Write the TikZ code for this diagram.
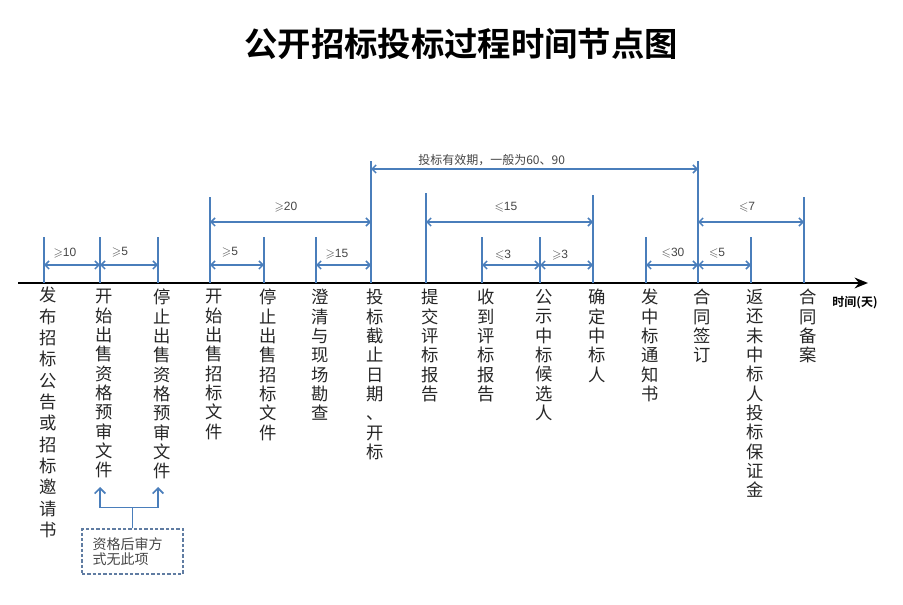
\documentclass[tikz,border=0pt]{standalone}
\usepackage{fontspec}
\usepackage{amssymb}
\usetikzlibrary{arrows.meta}

\newfontfamily\cjk{Noto Sans CJK SC}[BoldFont={Noto Sans CJK SC Bold}]
\newfontfamily\lab{Liberation Sans}

\definecolor{lineblue}{RGB}{74,126,187}
\definecolor{dashblue}{RGB}{96,124,162}
\definecolor{textgray}{RGB}{70,70,70}

% one character per line, for the event labels under the axis
\makeatletter
\newcommand\vtext[1]{\vbox{\@tfor\vt@ch:=#1\do{\hbox to 1em{\hss\vt@ch\hss}}}}
\makeatother

\tikzset{
  axis/.style={line width=1.8pt, -{Stealth[length=10pt,width=8pt]}},
  tickline/.style={draw=lineblue, line width=1.1pt},
  bigtick/.style={draw=lineblue, line width=1.8pt},
  dim/.style={draw=lineblue, line width=1.1pt,
    {Straight Barb[length=3pt,width=6pt]}-{Straight Barb[length=3pt,width=6pt]}},
  dimlabel/.style={text=textgray, inner sep=0pt, font=\lab\fontsize{9}{10}\selectfont},
  event/.style={anchor=north, inner sep=0pt, text=black!85,
    font=\cjk\fontsize{13}{14.5}\selectfont},
  note/.style={draw=dashblue, dash pattern=on 2.5pt off 1.5pt, line width=0.8pt,
    minimum width=75.75pt, minimum height=33.75pt, text width=60pt, align=left,
    text=textgray, font=\cjk\fontsize{10.5}{11.5}\selectfont},
  bracket/.style={draw=lineblue, line width=1.3pt, -{Straight Barb[length=4pt,width=8pt]}}
}

\begin{document}
\begin{tikzpicture}[x=0.75pt,y=-0.75pt]
  \useasboundingbox (0,0) rectangle (903,605);

  \node[font=\cjk\bfseries\fontsize{25}{30}\selectfont] (title) at (461,44) {公开招标投标过程时间节点图};

  % time axis
  \coordinate (o) at (18,283);
  \coordinate (e) at (868,283);
  \draw[axis] (o) -- (e);
  \node[font=\cjk\bfseries\fontsize{9}{10}\selectfont] (unit) at (855,303) {时间(天)};

  % points on the axis and tops of the ticks
  \coordinate (t1)  at (44,283);  \coordinate (h1)  at (44,237);
  \coordinate (t2)  at (100,283); \coordinate (h2)  at (100,237);
  \coordinate (t3)  at (158,283); \coordinate (h3)  at (158,237);
  \coordinate (t4)  at (210,283); \coordinate (h4)  at (210,197);
  \coordinate (t5)  at (264,283); \coordinate (h5)  at (264,237);
  \coordinate (t6)  at (316,283); \coordinate (h6)  at (316,237);
  \coordinate (t7)  at (371,283); \coordinate (h7)  at (371,161);
  \coordinate (t8)  at (426,283); \coordinate (h8)  at (426,193);
  \coordinate (t9)  at (482,283); \coordinate (h9)  at (482,237);
  \coordinate (t10) at (540,283); \coordinate (h10) at (540,237);
  \coordinate (t11) at (593,283); \coordinate (h11) at (593,195);
  \coordinate (t12) at (646,283); \coordinate (h12) at (646,237);
  \coordinate (t13) at (698,283); \coordinate (h13) at (698,161);
  \coordinate (t14) at (751,283); \coordinate (h14) at (751,237);
  \coordinate (t15) at (804,283); \coordinate (h15) at (804,197);

  \draw[tickline] (t1) -- (h1);
  \draw[tickline] (t2) -- (h2);
  \draw[tickline] (t3) -- (h3);
  \draw[tickline] (t4) -- (h4);
  \draw[tickline] (t5) -- (h5);
  \draw[tickline] (t6) -- (h6);
  \draw[bigtick]  (t7) -- (h7);
  \draw[tickline] (t8) -- (h8);
  \draw[tickline] (t9) -- (h9);
  \draw[tickline] (t10) -- (h10);
  \draw[tickline] (t11) -- (h11);
  \draw[tickline] (t12) -- (h12);
  \draw[tickline] (t13) -- (h13);
  \draw[tickline] (t14) -- (h14);
  \draw[tickline] (t15) -- (h15);

  % levels of the span arrows
  \coordinate (lo)  at (0,265);
  \coordinate (mid) at (0,222);
  \coordinate (hi)  at (0,169);

  \draw[dim] (t1 |- lo) -- (t2 |- lo);
  \draw[dim] (t2 |- lo) -- (t3 |- lo);
  \draw[dim] (t4 |- lo) -- (t5 |- lo);
  \draw[dim] (t6 |- lo) -- (t7 |- lo);
  \draw[dim] (t9 |- lo) -- (t10 |- lo);
  \draw[dim] (t10 |- lo) -- (t11 |- lo);
  \draw[dim] (t12 |- lo) -- (t13 |- lo);
  \draw[dim] (t13 |- lo) -- (t14 |- lo);
  \draw[dim] (t4 |- mid) -- (t7 |- mid);
  \draw[dim] (t8 |- mid) -- (t11 |- mid);
  \draw[dim] (t13 |- mid) -- (t15 |- mid);
  \draw[dim] (t7 |- hi) -- (t13 |- hi);

  \node[dimlabel] (d1)  at (65,253)  {$\geqslant$10};
  \node[dimlabel] (d2)  at (120,252) {$\geqslant$5};
  \node[dimlabel] (d3)  at (230,252) {$\geqslant$5};
  \node[dimlabel] (d4)  at (337,254) {$\geqslant$15};
  \node[dimlabel] (d5)  at (286,207) {$\geqslant$20};
  \node[dimlabel] (d6)  at (506,207) {$\leqslant$15};
  \node[dimlabel] (d7)  at (503,255) {$\leqslant$3};
  \node[dimlabel] (d8)  at (560,255) {$\geqslant$3};
  \node[dimlabel] (d9)  at (673,253) {$\leqslant$30};
  \node[dimlabel] (d10) at (717,253) {$\leqslant$5};
  \node[dimlabel] (d11) at (747,207) {$\leqslant$7};
  \node[dimlabel, anchor=west, font=\cjk\fontsize{9}{10}\selectfont] (d12) at (418,160) {投标有效期，一般为60、90};

  % events
  \node[event, font=\cjk\fontsize{13}{16}\selectfont] (e1) at (48,287) {\vtext{发布招标公告或招标邀请书}};
  \node[event] (e2)  at (104,289) {\vtext{开始出售资格预审文件}};
  \node[event] (e3)  at (162,289) {\vtext{停止出售资格预审文件}};
  \node[event] (e4)  at (214,289) {\vtext{开始出售招标文件}};
  \node[event] (e5)  at (268,289) {\vtext{停止出售招标文件}};
  \node[event] (e6)  at (320,289) {\vtext{澄清与现场勘查}};
  \node[event] (e7)  at (375,289) {\vtext{投标截止日期、开标}};
  \node[event] (e8)  at (430,289) {\vtext{提交评标报告}};
  \node[event] (e9)  at (486,289) {\vtext{收到评标报告}};
  \node[event] (e10) at (544,289) {\vtext{公示中标候选人}};
  \node[event] (e11) at (597,289) {\vtext{确定中标人}};
  \node[event] (e12) at (650,289) {\vtext{发中标通知书}};
  \node[event] (e13) at (702,289) {\vtext{合同签订}};
  \node[event] (e14) at (755,289) {\vtext{返还未中标人投标保证金}};
  \node[event] (e15) at (808,289) {\vtext{合同备案}};

  % post-qualification note
  \node[note] (nb) at (132.5,551.5) {资格后审方\\式无此项};
  \coordinate (a2) at (100,487);
  \coordinate (a3) at (158,487);
  \draw[bracket] (nb.north) -- ++(0,-21) -| (a2);
  \draw[bracket] (nb.north) -- ++(0,-21) -| (a3);
\end{tikzpicture}
\end{document}
